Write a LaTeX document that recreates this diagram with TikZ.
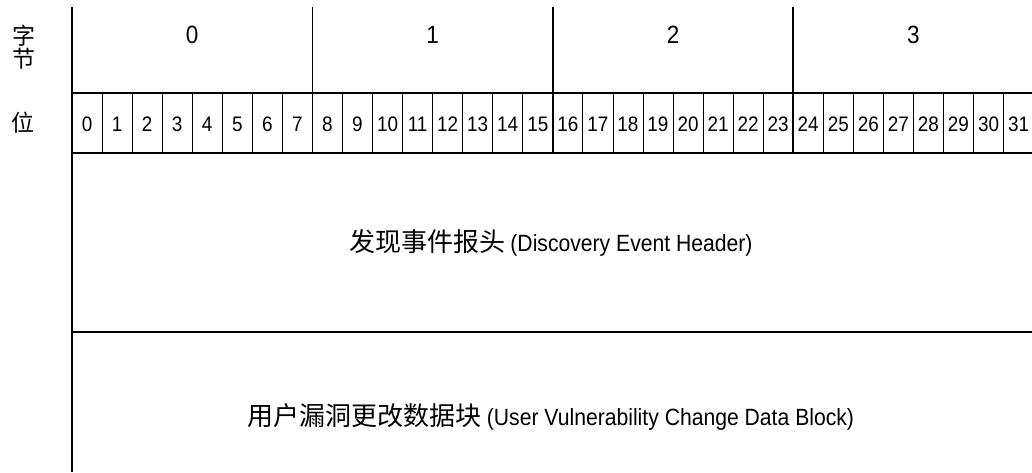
\documentclass[tikz,border=0pt]{standalone}
\usepackage{fontspec}
\setmainfont[FakeStretch=0.9]{Liberation Sans}
\newfontfamily\cjk{Noto Sans CJK SC}
\begin{document}
\begin{tikzpicture}[x=1pt,y=-1pt,
  thickline/.style={line width=1.6pt,black},
  thinline/.style={line width=0.8pt,black},
  numlbl/.style={font=\fontsize{25}{28}\selectfont,inner sep=0pt,anchor=base},
  bitlbl/.style={font=\fontsize{21}{24}\selectfont,inner sep=0pt,anchor=base},
  cjklbl/.style={inner sep=0pt},
  mainlbl/.style={inner sep=0pt,anchor=base}]
\useasboundingbox (0,0) rectangle (1032,472);
\def\bw{30.05}
% thin bit dividers
\foreach \i in {1,...,31}{
  \draw[thinline] ({72+\bw*\i},93) -- ({72+\bw*\i},153);
}
% byte dividers
\foreach \j in {1,2,3}{
  \draw[thickline] ({72+\bw*8*\j},7) -- ({72+\bw*8*\j},153);
}
% horizontal lines
\draw[thickline] (72,93) -- (1032,93);
\draw[thickline] (72,153) -- (1032,153);
\draw[thickline] (72,332) -- (1032,332);
% left line
\draw[thickline] (72,7) -- (72,472);
% byte labels
\foreach \j in {0,1,2,3}{
  \node[numlbl] (byte\j) at ({72+\bw*8*(\j+0.5)},43) {\j};
}
% bit labels
\foreach \i in {0,...,31}{
  \node[bitlbl] (bit\i) at ({72+\bw*(\i+0.5)},131) {\i};
}
% row labels
\node[cjklbl,align=center,font=\cjk\fontsize{23}{23.5}\selectfont] (zijie) at (24,47) {字\\节};
\node[cjklbl,font=\cjk\fontsize{23}{25}\selectfont] (wei) at (23,123) {位};
% block texts
\node[mainlbl] (hdr) at (551,251) {{\cjk\fontsize{26}{28}\selectfont 发现事件报头}\hspace{5pt}{\fontsize{23.5}{26}\selectfont(Discovery Event Header)}};
\node[mainlbl] (blk) at (551,425) {{\cjk\fontsize{26}{28}\selectfont 用户漏洞更改数据块}\hspace{5pt}{\fontsize{23.5}{26}\selectfont(User Vulnerability Change Data Block)}};
\end{tikzpicture}
\end{document}
